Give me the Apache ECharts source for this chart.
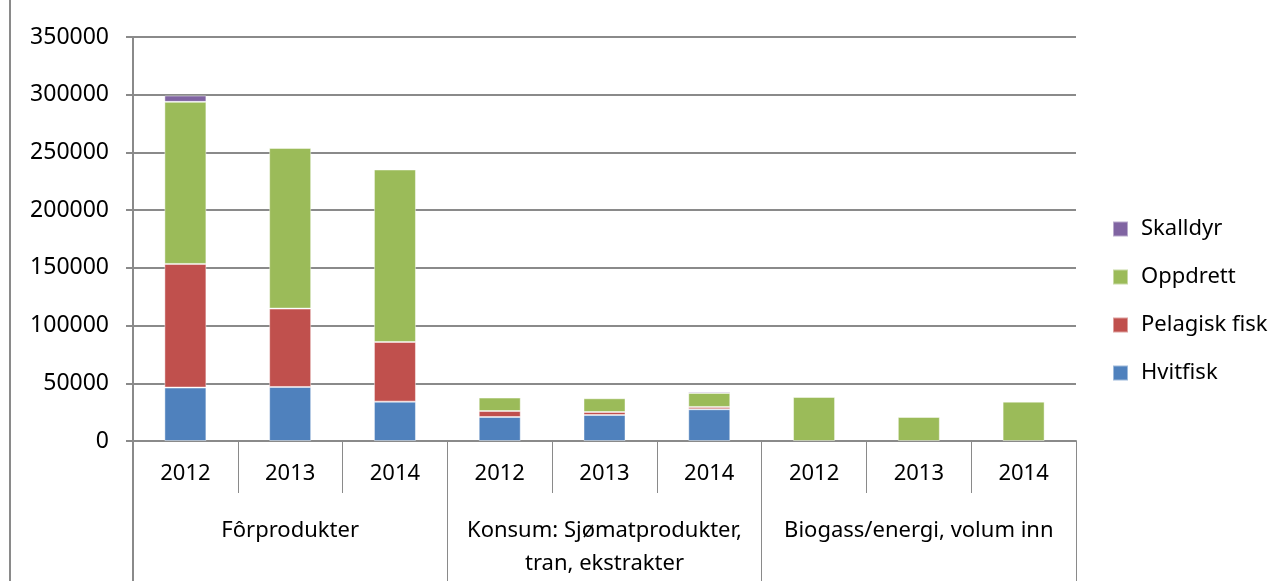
<!DOCTYPE html>
<html>
<head>
<meta charset="utf-8">
<script src="https://cdn.jsdelivr.net/npm/echarts@6/dist/echarts.min.js"></script>
<style>
  html, body { margin: 0; padding: 0; background: #fff; }
  #main { width: 1272px; height: 581px; }
</style>
</head>
<body>
<div id="main"></div>
<script>
const years = ['2012', '2013', '2014', '2012', '2013', '2014', '2012', '2013', '2014']
const groups = ['Fôrprodukter', 'Konsum: Sjømatprodukter,\ntran, ekstrakter', 'Biogass/energi, volum inn']
const yTicks = [0, 50000, 100000, 150000, 200000, 250000, 300000, 350000]

// stacked from the bottom up, null = no segment
const hvitfisk = [46300, 46800, 34100, 20800, 22500, 27500, null, null, null]
const pelagisk = [107100, 67900, 51700, 5200, 2600, 2000, null, null, null]
const oppdrett = [140400, 139200, 149400, 11600, 11900, 12100, 38100, 20800, 34100]
const skalldyr = [5500, null, null, null, 900, 1200, null, null, null]

const font = 'Noto Sans'
const grey = '#8a8a8a'

function barSeries (name, data, color) {
  return {
    name: name,
    type: 'bar',
    stack: 'total',
    barWidth: 42,
    data: data,
    itemStyle: {
      color: color,
      borderColor: 'rgba(255,255,255,0.45)',
      borderWidth: 1
    }
  }
}

let option = {
  backgroundColor: '#fff',
  animation: false,
  textStyle: { fontFamily: font },
  grid: { left: 133, right: 196, top: 37, bottom: 140 },
  legend: {
    orient: 'vertical',
    left: 1107,
    top: 213,
    itemWidth: 15,
    itemHeight: 15,
    itemGap: 26,
    icon: 'rect',
    data: ['Skalldyr', 'Oppdrett', 'Pelagisk fisk', 'Hvitfisk'],
    textStyle: { fontFamily: font, fontSize: 22, color: '#000', padding: [0, 0, 0, 8] }
  },
  xAxis: [
    {
      type: 'category',
      data: years,
      position: 'bottom',
      axisLine: { lineStyle: { color: grey, width: 2 } },
      axisTick: { show: true, interval: 0, length: 52, lineStyle: { color: grey, width: 1 } },
      axisLabel: { interval: 0, margin: 22, fontSize: 22, color: '#000', fontFamily: font }
    },
    {
      type: 'category',
      data: groups,
      position: 'bottom',
      axisLine: { show: false },
      axisTick: { show: true, interval: 0, length: 140, lineStyle: { color: grey, width: 1 } },
      axisLabel: { interval: 0, hideOverlap: false, margin: 73, fontSize: 22, lineHeight: 33, color: '#000', fontFamily: font }
    }
  ],
  yAxis: {
    type: 'value',
    min: yTicks[0],
    max: yTicks[yTicks.length - 1],
    interval: yTicks[1] - yTicks[0],
    axisLine: { show: true, lineStyle: { color: grey, width: 2 } },
    axisTick: { show: true, length: 7, lineStyle: { color: grey, width: 2 } },
    axisLabel: {
      margin: 24,
      fontSize: 23,
      color: '#000',
      fontFamily: font,
      formatter: function (v) { return String(v) }
    },
    splitLine: { lineStyle: { color: grey, width: 2 } }
  },
  graphic: [
    {
      type: 'line',
      shape: { x1: 10, y1: 0, x2: 10, y2: 581 },
      style: { stroke: grey, lineWidth: 2 }
    },
    {
      type: 'line',
      shape: { x1: 133, y1: 441, x2: 133, y2: 581 },
      style: { stroke: grey, lineWidth: 2 }
    }
  ],
  series: [
    barSeries('Hvitfisk', hvitfisk, '#4f81bd'),
    barSeries('Pelagisk fisk', pelagisk, '#c0504d'),
    barSeries('Oppdrett', oppdrett, '#9bbb59'),
    barSeries('Skalldyr', skalldyr, '#8064a2')
  ]
}

let myChart = echarts.init(document.getElementById('main'))
myChart.setOption(option)
</script>
</body>
</html>
